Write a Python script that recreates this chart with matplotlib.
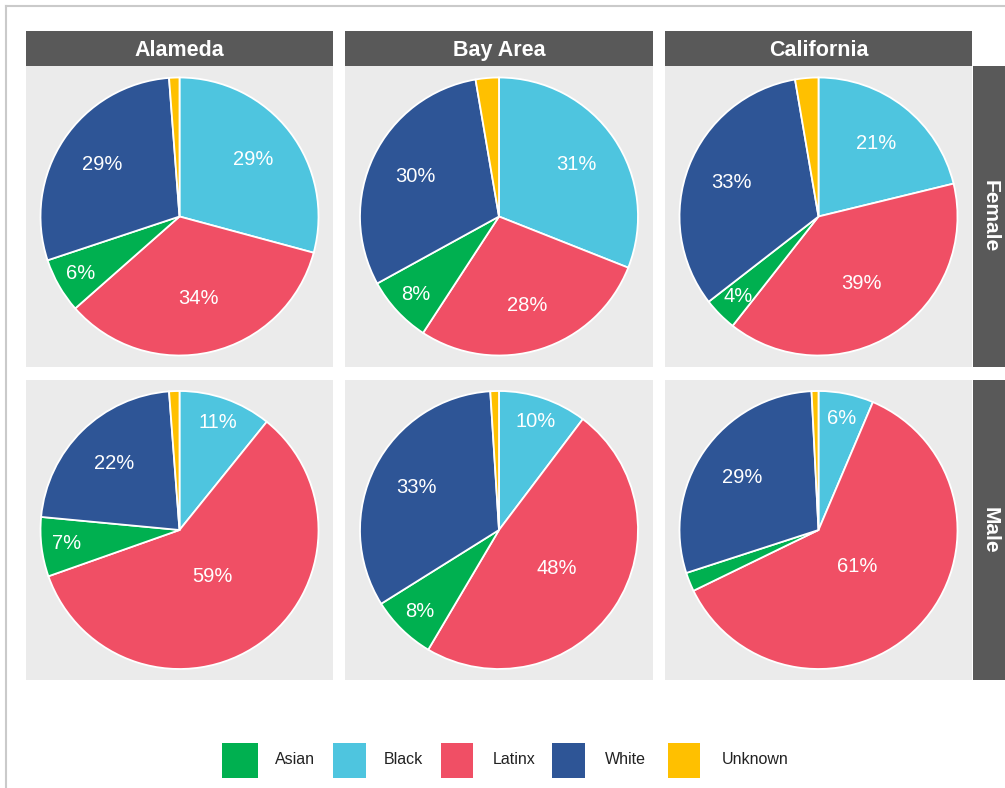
import numpy as np
import matplotlib
matplotlib.use("Agg")
import matplotlib.pyplot as plt
from matplotlib.patches import Rectangle
from matplotlib.lines import Line2D

plt.rcParams['font.family'] = ['Liberation Sans', 'DejaVu Sans']

# ---- data ----
regions = ["Alameda", "Bay Area", "California"]
genders = ["Female", "Male"]
slice_order = ["Black", "Latinx", "Asian", "White", "Unknown"]   # clockwise from 12 o'clock
legend_order = ["Asian", "Black", "Latinx", "White", "Unknown"]

female_alameda = [29.2, 34.3, 6.4, 28.9, 1.2]
female_bayarea = [31.0, 28.2, 7.8, 30.3, 2.7]
female_california = [21.2, 39.4, 3.9, 32.8, 2.7]
male_alameda = [10.8, 58.8, 6.9, 22.3, 1.2]
male_bayarea = [10.3, 48.2, 7.6, 32.9, 1.0]
male_california = [6.4, 61.4, 2.2, 29.2, 0.8]

data = {
    ("Female", "Alameda"): female_alameda,
    ("Female", "Bay Area"): female_bayarea,
    ("Female", "California"): female_california,
    ("Male", "Alameda"): male_alameda,
    ("Male", "Bay Area"): male_bayarea,
    ("Male", "California"): male_california,
}

colors = {"Asian": "#00B050", "Black": "#4EC5DF", "Latinx": "#F04F65",
          "White": "#2E5596", "Unknown": "#FFC000"}

# ---- layout (pixels) ----
W, H = 1005, 788
fig = plt.figure(figsize=(W / 100, H / 100), dpi=100)
fig.patch.set_facecolor("white")

col_x = [(26, 333), (345, 653), (665, 972)]
row_y = [(66, 367), (380, 680)]
strip_top = (31, 66)
strip_right = (973, 1012)
R = 139.0
STRIP = "#595959"
PANEL = "#EBEBEB"


def rect(x0, y0, x1, y1):
    return [x0 / W, 1 - y1 / H, (x1 - x0) / W, (y1 - y0) / H]


# outer border
fig.add_artist(Line2D([6 / W, 6 / W], [0, 1 - 6 / H], transform=fig.transFigure,
                      color="#CACACA", lw=1.5))
fig.add_artist(Line2D([6 / W, 1], [1 - 6 / H, 1 - 6 / H], transform=fig.transFigure,
                      color="#CACACA", lw=1.5))

# top strips
for (x0, x1), reg in zip(col_x, regions):
    r = rect(x0, strip_top[0], x1, strip_top[1])
    fig.add_artist(Rectangle((r[0], r[1]), r[2], r[3], transform=fig.transFigure,
                             facecolor=STRIP, edgecolor="none"))
    fig.text(r[0] + r[2] / 2, r[1] + r[3] / 2 - 0.002, reg, color="white",
             fontsize=15.5, fontweight="bold", ha="center", va="center")

# right strips
for (y0, y1), g in zip(row_y, genders):
    r = rect(strip_right[0], y0, strip_right[1], y1)
    fig.add_artist(Rectangle((r[0], r[1]), r[2], r[3], transform=fig.transFigure,
                             facecolor=STRIP, edgecolor="none"))
    fig.text((990) / W, r[1] + r[3] / 2, g, color="white", fontsize=15,
             fontweight="bold", ha="center", va="center", rotation=-90)

# pies
for (y0, y1), g in zip(row_y, genders):
    for (x0, x1), reg in zip(col_x, regions):
        ax = fig.add_axes(rect(x0, y0, x1, y1))
        vals = data[(g, reg)]
        wedges, _ = ax.pie(vals, colors=[colors[s] for s in slice_order],
                           startangle=90, counterclock=False, radius=1.0,
                           wedgeprops=dict(edgecolor="white", linewidth=1.3))
        total = float(np.sum(vals))
        for w, v in zip(wedges, vals):
            p = 100 * v / total
            if p < 3.5:
                continue
            mid = np.deg2rad((w.theta1 + w.theta2) / 2)
            th = 2 * np.pi * v / total
            if p < 12:
                d = 0.82
            elif p < 34:
                d = 0.67
            else:
                d = 4 * np.sin(th / 2) / (3 * th) + 0.06
            ax.text(d * np.cos(mid), d * np.sin(mid), f"{round(p)}%",
                    color="white", fontsize=14.5, ha="center", va="center")
        ax.set_frame_on(True)
        for s in ax.spines.values():
            s.set_visible(False)
        ax.set_facecolor(PANEL)
        ax.set_aspect("auto")
        hw = (x1 - x0) / 2 / R
        hh = (y1 - y0) / 2 / R
        ax.set_xlim(-hw, hw)
        ax.set_ylim(-hh, hh)
        ax.set_xticks([])
        ax.set_yticks([])

# legend
leg_sq = [(222, 258), (333, 366), (441, 473), (552, 585), (668, 700)]
leg_tx = [295, 403, 514, 625, 755]
for name, (sx0, sx1), tx in zip(legend_order, leg_sq, leg_tx):
    sy0, sy1 = 743, 778
    r = rect(sx0, sy0, sx1, sy1)
    fig.add_artist(Rectangle((r[0], r[1]), r[2], r[3], transform=fig.transFigure,
                             facecolor=colors[name], edgecolor="none"))
    fig.text(tx / W, 1 - 760 / H, name, color="#222222", fontsize=11.5,
             ha="center", va="center")

fig.savefig("out.png", dpi=100)
